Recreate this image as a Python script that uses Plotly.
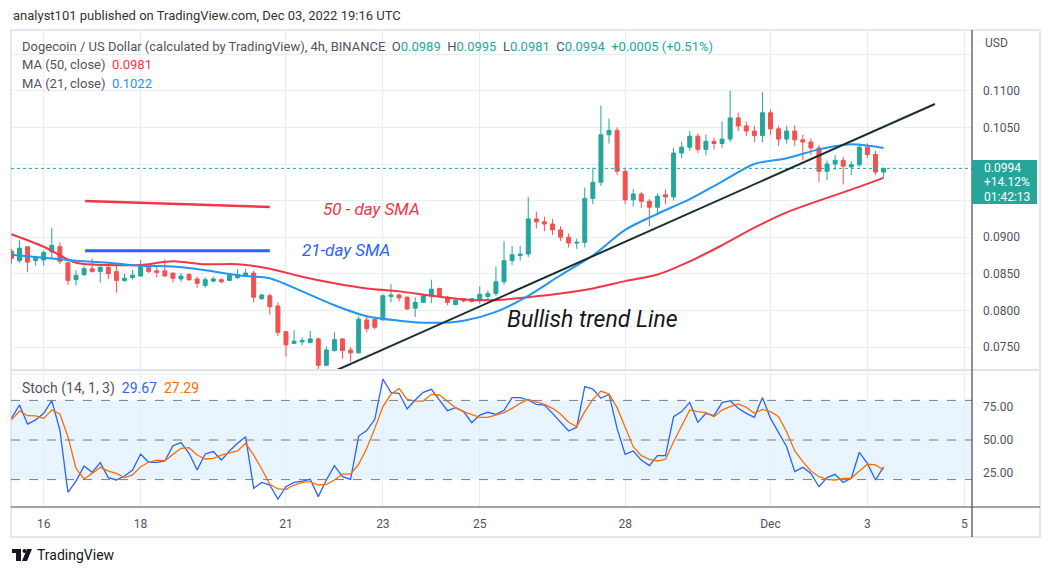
import pandas as pd
import plotly.graph_objects as go

# ---------------- data ----------------
times = pd.date_range('2022-11-15 08:00', periods=109, freq='4h')

open_ = [.0881, .0868, .0887, .0868, .0869, .0880, .0887, .0865, .0842, .0849,
         .0857, .0853, .0859, .0853, .0841, .0845, .0847, .0859, .0854, .0854,
         .0851, .0843, .0849, .0843, .0834, .0840, .0842, .0841, .0845, .0848,
         .0851, .0816, .0820, .0806, .0771, .0755, .0757, .0756, .0761, .0725,
         .0745, .0761, .0746, .0742, .0787, .0788, .0787, .0819, .0821, .0818,
         .0803, .0811, .0820, .0830, .0818, .0808, .0816, .0812, .0814, .0819,
         .0823, .0839, .0868, .0875, .0877, .0925, .0921, .0918, .0910, .0900,
         .0892, .0893, .0953, .0975, .1040, .1046, .0990, .0951, .0959, .0949,
         .0941, .0958, .0955, .1015, .1023, .1038, .1020, .1031, .1028, .1034,
         .1063, .1052, .1045, .1039, .1070, .1048, .1034, .1045, .1033, .1030,
         .1022, .0990, .1000, .1005, .0996, .0999, .1023, .1013, .0989]
high = [.0884, .0896, .0888, .0874, .0882, .0913, .0893, .0867, .0855, .0861,
        .0871, .0860, .0862, .0864, .0850, .0855, .0869, .0860, .0861, .0870,
        .0852, .0851, .0851, .0846, .0845, .0846, .0844, .0851, .0856, .0857,
        .0854, .0823, .0823, .0811, .0772, .0773, .0763, .0772, .0763, .0751,
        .0770, .0762, .0750, .0792, .0791, .0791, .0822, .0836, .0823, .0819,
        .0818, .0823, .0842, .0831, .0820, .0815, .0817, .0817, .0833, .0827,
        .0860, .0895, .0888, .0888, .0955, .0935, .0928, .0925, .0915, .0905,
        .0898, .0968, .0995, .1080, .1062, .1050, .0995, .0966, .0962, .0952,
        .0960, .0965, .1022, .1030, .1045, .1042, .1040, .1036, .1058, .1100,
        .1070, .1058, .1052, .1098, .1075, .1052, .1052, .1053, .1040, .1035,
        .1026, .1005, .1012, .1010, .1004, .1028, .1028, .1018, .0995]
low = [.0864, .0865, .0852, .0861, .0861, .0871, .0863, .0835, .0834, .0847,
       .0852, .0838, .0843, .0824, .0839, .0842, .0846, .0851, .0845, .0846,
       .0838, .0839, .0840, .0831, .0831, .0838, .0837, .0840, .0843, .0847,
       .0811, .0814, .0794, .0765, .0737, .0754, .0752, .0755, .0718, .0724,
       .0744, .0734, .0730, .0741, .0770, .0774, .0786, .0811, .0812, .0801,
       .0791, .0810, .0810, .0818, .0807, .0807, .0811, .0811, .0809, .0814,
       .0820, .0835, .0862, .0868, .0873, .0912, .0908, .0903, .0895, .0886,
       .0884, .0886, .0945, .0970, .1028, .0985, .0945, .0942, .0940, .0915,
       .0930, .0945, .0950, .1008, .1018, .1015, .1012, .1020, .1022, .1030,
       .1045, .1038, .1030, .1030, .1040, .1025, .1028, .1025, .1005, .1012,
       .0975, .0978, .0992, .0972, .0985, .0996, .1008, .0985, .0981]
close = [.0871, .0885, .0866, .0872, .0879, .0889, .0867, .0841, .0848, .0857,
         .0853, .0859, .0850, .0841, .0844, .0848, .0860, .0853, .0852, .0847,
         .0844, .0847, .0842, .0837, .0842, .0843, .0839, .0848, .0849, .0851,
         .0818, .0821, .0805, .0770, .0753, .0758, .0759, .0761, .0725, .0746,
         .0760, .0745, .0742, .0788, .0775, .0777, .0820, .0821, .0817, .0802,
         .0811, .0820, .0829, .0819, .0811, .0814, .0813, .0816, .0822, .0823,
         .0839, .0868, .0876, .0877, .0925, .0921, .0918, .0910, .0900, .0892,
         .0893, .0953, .0975, .1040, .1046, .0990, .0951, .0959, .0949, .0941,
         .0956, .0955, .1015, .1023, .1038, .1020, .1031, .1028, .1034, .1063,
         .1052, .1045, .1039, .1070, .1048, .1034, .1045, .1033, .1030, .1022,
         .0990, .1000, .1005, .0997, .0999, .1023, .1013, .0989, .0994]

# moving averages read every 4th bar
ma_times = times[::4]
ma50 = [.0904, .0887, .0865, .0862, .0862, .0867, .0863, .0863, .0857, .0846,
        .0837, .0830, .0826, .0820, .0815, .0814, .0818, .0823, .0830, .0840,
        .0849, .0867, .0889, .0913, .0934, .0950, .0965, .0981]
ma21 = [.0876, .0872, .0868, .0865, .0861, .0860, .0855, .0848, .0844, .0826,
        .0807, .0792, .0786, .0783, .0786, .0798, .0820, .0848, .0875, .0910,
        .0932, .0952, .0976, .1000, .1008, .1020, .1027, .1022]

stoch_k = [66.4, 76.5, 62.1, 65.2, 70.2, 79.8, 57.6, 10.4, 18.9, 30.3,
           25.5, 32.8, 21.5, 19.7, 22.7, 27.3, 39.4, 33.1, 33.1, 34.1,
           45.7, 48.0, 39.9, 27.3, 39.4, 41.2, 34.8, 41.7, 47.5, 52.5,
           13.4, 17.9, 15.9, 5.3, 14.6, 17.9, 18.9, 20.2, 7.1, 19.7,
           30.6, 22.2, 20.2, 53.0, 57.1, 65.7, 96.2, 85.9, 85.4, 73.5,
           80.3, 86.1, 88.4, 80.3, 72.2, 74.5, 71.5, 63.1, 68.9, 71.0,
           69.4, 72.5, 82.1, 82.1, 80.3, 77.0, 76.5, 70.2, 63.9, 56.8,
           59.6, 90.4, 88.6, 81.6, 84.6, 58.8, 39.1, 41.7, 34.8, 30.6,
           38.1, 38.1, 67.7, 71.5, 78.5, 63.4, 70.2, 68.4, 78.3, 79.8,
           74.0, 70.2, 67.2, 82.1, 66.4, 55.8, 44.9, 26.0, 29.3, 24.7,
           14.6, 21.5, 24.0, 17.9, 21.0, 40.7, 32.3, 19.7, 29.67]
stoch_d = [65.2, 72.0, 68.4, 68.2, 66.4, 72.7, 69.7, 52.5, 28.5, 20.5,
           24.7, 29.3, 26.5, 24.7, 21.5, 23.5, 29.8, 33.1, 34.8, 34.3,
           39.1, 43.7, 44.2, 38.6, 35.6, 36.1, 38.6, 39.9, 41.7, 47.5,
           38.6, 28.0, 16.4, 12.9, 12.6, 15.9, 17.9, 18.4, 15.9, 16.4,
           19.7, 24.2, 24.2, 31.6, 43.7, 58.8, 75.3, 84.6, 89.1, 80.8,
           79.5, 79.5, 84.6, 84.1, 79.0, 74.5, 71.5, 69.4, 67.2, 67.2,
           68.9, 70.7, 74.0, 77.8, 80.8, 79.0, 77.0, 74.0, 69.7, 63.4,
           60.1, 71.5, 80.8, 87.1, 84.8, 74.5, 60.1, 44.9, 38.1, 35.4,
           34.1, 35.4, 48.7, 60.1, 72.7, 71.5, 70.7, 67.7, 72.7, 75.3,
           77.3, 74.7, 70.2, 73.2, 71.5, 67.7, 56.3, 41.7, 33.6, 26.5,
           22.2, 20.2, 19.7, 21.0, 21.0, 26.5, 31.6, 31.1, 27.29]

price_ticks = [.075, .080, .085, .090, .095, .100, .105, .110, .115]
price_ticktext = ['0.0750', '0.0800', '0.0850', '0.0900', '', '', '0.1050', '0.1100', '']
date_ticks = ['2022-11-16', '2022-11-18', '2022-11-21', '2022-11-23', '2022-11-25',
              '2022-11-28', '2022-12-01', '2022-12-03', '2022-12-05']
date_ticktext = ['16', '18', '21', '23', '25', '28', 'Dec', '3', '5']
last_price = 0.0994

# ---------------- styling ----------------
GREEN = '#26a69a'
RED = '#ef5350'
GRID = '#e9eef4'
TXT = '#50535e'
FONT = 'Roboto'
W, H = 1052, 575
ML, MR, MT, MB = 11, 80, 30, 68
PW, PH = W - ML - MR, H - MT - MB


def px(x, y):
    return (x - ML) / PW, (H - MB - y) / PH


fig = go.Figure()
fig.add_trace(go.Candlestick(
    x=times, open=open_, high=high, low=low, close=close,
    increasing=dict(line=dict(color=GREEN, width=1), fillcolor=GREEN),
    decreasing=dict(line=dict(color=RED, width=1), fillcolor=RED),
    whiskerwidth=0, xaxis='x', yaxis='y', showlegend=False, hoverinfo='skip'))
fig.add_trace(go.Scatter(x=ma_times, y=ma50, mode='lines', xaxis='x', yaxis='y',
                         line=dict(color='#f23645', width=2, shape='spline', smoothing=0.8),
                         showlegend=False, hoverinfo='skip'))
fig.add_trace(go.Scatter(x=ma_times, y=ma21, mode='lines', xaxis='x', yaxis='y',
                         line=dict(color='#2196f3', width=2, shape='spline', smoothing=0.8),
                         showlegend=False, hoverinfo='skip'))
fig.add_trace(go.Scatter(x=times, y=stoch_k, mode='lines', xaxis='x2', yaxis='y2',
                         line=dict(color='#2962ff', width=1.3), showlegend=False, hoverinfo='skip'))
fig.add_trace(go.Scatter(x=times, y=stoch_d, mode='lines', xaxis='x2', yaxis='y2',
                         line=dict(color='#ff6d00', width=1.3), showlegend=False, hoverinfo='skip'))

x_range = ['2022-11-15 07:48', '2022-12-05 03:48']
price_dom = [px(0, 369)[1], 1]
stoch_dom = [0, px(0, 371)[1]]

fig.update_layout(
    width=W, height=H, margin=dict(l=ML, r=MR, t=MT, b=MB),
    paper_bgcolor='white', plot_bgcolor='white',
    font=dict(family=FONT, size=12, color=TXT),
    hovermode=False, dragmode=False,
    xaxis=dict(domain=[0, 1], range=x_range, anchor='y', showticklabels=False,
               tickvals=date_ticks, showgrid=True, gridcolor=GRID, gridwidth=1,
               zeroline=False, rangeslider=dict(visible=False), showline=False),
    xaxis2=dict(domain=[0, 1], range=x_range, anchor='y2', matches='x',
                tickvals=date_ticks, ticktext=date_ticktext, showgrid=True, gridcolor=GRID,
                zeroline=False, showline=False, ticks='', ticklabelstandoff=8,
                tickfont=dict(family=FONT, size=12, color=TXT)),
    yaxis=dict(domain=price_dom, range=[0.071995, 0.118306], side='right', anchor='x',
               tickvals=price_ticks, ticktext=price_ticktext, showgrid=True, gridcolor=GRID,
               zeroline=False, ticks='', ticklabelstandoff=10, showline=False,
               tickfont=dict(family=FONT, size=12, color=TXT)),
    yaxis2=dict(domain=stoch_dom, range=[-0.76, 102.27], side='right', anchor='x2',
                tickvals=[0, 25, 50, 75, 100], ticktext=['', '25.00', '50.00', '75.00', ''],
                showgrid=True, gridcolor=GRID, zeroline=False, ticks='', ticklabelstandoff=10,
                showline=False, tickfont=dict(family=FONT, size=12, color=TXT)),
)

shapes = []
# stoch band and levels
shapes.append(dict(type='rect', xref='x2 domain', x0=0, x1=1, yref='y2', y0=20, y1=80,
                   fillcolor='rgba(33,150,243,0.1)', line=dict(width=0), layer='below'))
for lv in (80, 50, 20):
    shapes.append(dict(type='line', xref='x2 domain', x0=0, x1=1, yref='y2', y0=lv, y1=lv,
                       line=dict(color='#787b86', width=1, dash='dash')))
# current price dotted line
shapes.append(dict(type='line', xref='x domain', x0=0, x1=1, yref='y', y0=last_price, y1=last_price,
                   line=dict(color=GREEN, width=1, dash='dot')))
# drawings
shapes.append(dict(type='line', xref='x', yref='y', x0='2022-11-16 20:30', x1='2022-11-20 16:00',
                   y0=0.09495, y1=0.09413, line=dict(color='#f23645', width=2.5)))
shapes.append(dict(type='line', xref='x', yref='y', x0='2022-11-16 20:30', x1='2022-11-20 16:00',
                   y0=0.08816, y1=0.08816, line=dict(color='#2962ff', width=3)))
shapes.append(dict(type='line', xref='x', yref='y', x0='2022-11-22 01:15', x1='2022-12-04 09:25',
                   y0=0.07186, y1=0.10820, line=dict(color='#1b302b', width=2)))

# frame and separators (paper coords from pixel helper)
x0p, _ = px(11, 0)
x1p, _ = px(1040, 0)
_, ytop = px(0, 30)
_, ybot = px(0, 537)
shapes.append(dict(type='rect', xref='paper', yref='paper', x0=x0p, x1=x1p, y0=ybot, y1=ytop,
                   line=dict(color='#e4e7ee', width=2), fillcolor='rgba(0,0,0,0)', layer='below'))
_, ysep = px(0, 370)
shapes.append(dict(type='line', xref='paper', yref='paper', x0=x0p, x1=x1p, y0=ysep, y1=ysep,
                   line=dict(color='#e0e3eb', width=2)))
_, yax = px(0, 507)
shapes.append(dict(type='line', xref='paper', yref='paper', x0=x0p, x1=x1p, y0=yax, y1=yax,
                   line=dict(color='#434651', width=1.2)))
shapes.append(dict(type='line', xref='paper', yref='paper', x0=1, x1=1, y0=ybot, y1=ytop,
                   line=dict(color='#434651', width=1.2)))
# price label box
bx0, by0 = px(972, 204)
bx1, by1 = px(1037, 160)
shapes.append(dict(type='rect', xref='paper', yref='paper', x0=bx0, x1=bx1, y0=by0, y1=by1,
                   fillcolor=GREEN, line=dict(width=0)))


# TradingView logo glyph
def rect_px(xa, ya, xb, yb, col='#131722'):
    a = px(xa, ya)
    b = px(xb, yb)
    return dict(type='rect', xref='paper', yref='paper', x0=a[0], x1=b[0], y0=b[1], y1=a[1],
                fillcolor=col, line=dict(width=0))


shapes.append(rect_px(12, 549, 21, 553))
shapes.append(rect_px(16, 549, 21, 561))
c0 = px(22.5, 549)
c1 = px(26.5, 553)
shapes.append(dict(type='circle', xref='paper', yref='paper', x0=c0[0], x1=c1[0], y0=c1[1], y1=c0[1],
                   fillcolor='#131722', line=dict(width=0)))
pts = [px(27, 549), px(32, 549), px(27, 561), px(22, 561)]
path = 'M {} {} L {} {} L {} {} L {} {} Z'.format(*[v for p in pts for v in p])
shapes.append(dict(type='path', xref='paper', yref='paper', path=path,
                   fillcolor='#131722', line=dict(width=0)))
fig.update_layout(shapes=shapes)

ann = []


def label(x, y, text, size=12, color=TXT, xanchor='left', family=FONT):
    xp, yp = px(x, y)
    ann.append(dict(xref='paper', yref='paper', x=xp, y=yp, text=text, showarrow=False,
                    xanchor=xanchor, yanchor='middle', font=dict(family=family, size=size, color=color)))


def g(t):
    return "<span style='color:%s'>%s</span>" % (GREEN, t)


sp = '\u00a0\u00a0'
label(11, 16, 'analyst101 published on TradingView.com, Dec 03, 2022 19:16 UTC', size=13, color='#333333')
label(20, 46, 'Dogecoin / US Dollar (calculated by TradingView), 4h, BINANCE' + sp + 'O' + g('0.0989') + sp +
      'H' + g('0.0995') + sp + 'L' + g('0.0981') + sp + 'C' + g('0.0994') + sp + g('+0.0005 (+0.51%)'), size=13)
label(20, 65, 'MA (50, close)' + sp + "<span style='color:#f23645'>0.0981</span>", size=13)
label(20, 84, 'MA (21, close)' + sp + "<span style='color:#2196f3'>0.1022</span>", size=13)
label(20, 388, 'Stoch (14, 1, 3)' + sp + "<span style='color:#2962ff'>29.67</span>" + sp +
      "<span style='color:#ff6d00'>27.29</span>", size=14)
label(983, 43, 'USD', size=12)
label(982, 168, '0.0994', size=12, color='white')
label(982, 182.5, '+14.12%', size=12, color='white')
label(982, 197, '01:42:13', size=12, color='white')
label(35, 555, 'TradingView', size=14, color='#131722')

# drawing texts (data coords)
ann.append(dict(xref='x', yref='y', x='2022-11-22 18:30', y=0.09385, text='<i>50 - day SMA</i>',
                showarrow=False, font=dict(family=FONT, size=17, color='#f23645')))
ann.append(dict(xref='x', yref='y', x='2022-11-22 05:40', y=0.08825, text='<i>21-day SMA</i>',
                showarrow=False, font=dict(family=FONT, size=17, color='#2962ff')))
ann.append(dict(xref='x', yref='y', x='2022-11-27 08:00', y=0.07869, text='<i>Bullish trend Line</i>',
                showarrow=False, font=dict(family=FONT, size=23, color='#131722')))
fig.update_layout(annotations=ann)

fig.write_html('out.html', config={'displayModeBar': False, 'staticPlot': True},
               post_script="document.body.style.margin='0px';")
